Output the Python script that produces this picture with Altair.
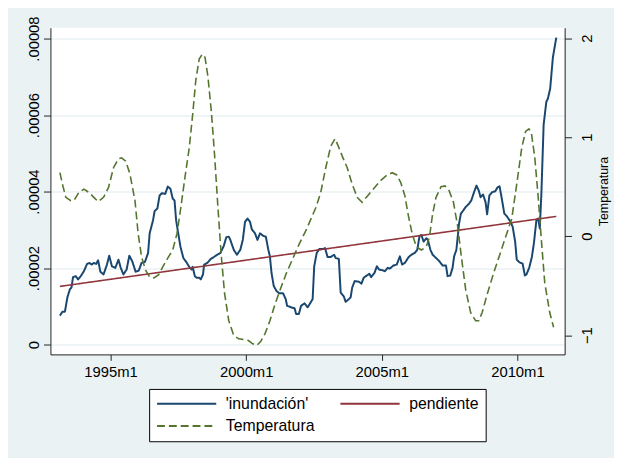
import altair as alt
import pandas as pd

# ---- data (months in Stata %tm: 420 = 1995m1) ----
inund_mes = [397.6, 398.7, 399.8, 400.9, 402.0, 402.7, 403.4, 404.6, 405.6, 406.8,
             408.2, 409.6, 410.7, 411.6, 412.6, 413.6, 414.5, 415.5, 416.9, 418.4,
             419.4, 420.6, 422.1, 423.5, 424.5, 425.7, 427.1, 428.3, 429.6, 431.1,
             432.5, 433.7, 435.2, 436.6, 437.3, 438.8, 439.5, 440.7, 441.7, 442.7,
             444.2, 445.3, 446.5, 447.5, 448.3, 449.0, 449.7, 450.9, 452.2, 453.6,
             454.8, 455.8, 456.3, 457.3, 458.1, 459.2, 459.9, 460.9, 461.4, 462.8,
             464.3, 465.7, 467.2, 468.6, 470.1, 471.2, 472.3, 473.0, 474.5, 475.9,
             477.4, 478.5, 479.5, 480.6, 481.7, 482.5, 483.9, 485.0, 486.1, 487.6,
             488.7, 489.8, 490.5, 491.2, 492.2, 493.4, 494.6, 496.3, 497.5, 498.1,
             499.9, 501.4, 502.1, 503.3, 504.3, 505.8, 507.2, 508.7, 509.4, 510.1,
             511.2, 512.3, 513.8, 514.9, 516.0, 517.4, 518.9, 519.6, 521.0, 521.8,
             523.2, 524.0, 525.4, 526.2, 526.9, 528.0, 529.8, 531.0, 532.0, 533.4,
             534.5, 535.3, 536.8, 537.8, 538.8, 540.3, 541.4, 542.6, 543.6, 545.1,
             546.6, 548.0, 549.0, 550.2, 551.9, 553.1, 554.5, 555.7, 556.7, 557.5,
             558.5, 559.7, 560.4, 561.5, 562.5, 564.0, 565.5, 566.9, 568.4, 569.1,
             570.3, 571.3, 572.0, 573.0, 574.2, 575.0, 576.1, 577.1, 578.6, 579.6,
             580.8, 581.9, 582.9, 583.7, 584.8, 585.9, 586.6, 587.6, 588.8, 590.2,
             591.2, 592.1, 593.1, 594.2, 595.3, 596.8, 597.9, 599.0, 599.7, 600.9,
             602.3, 603.3, 604.0, 605.2, 606.4, 607.3, 608.4, 609.2, 609.9, 610.6,
             611.6, 612.8, 613.5, 614.5, 615.7, 617.2]
# 'inundación' in units of 1e-5
inund_val = [0.756, 0.859, 0.859, 1.231, 1.445, 1.489, 1.763, 1.788, 1.703, 1.788,
             1.917, 2.108, 2.134, 2.090, 2.134, 2.108, 2.201, 1.902, 1.832, 2.090,
             2.323, 2.046, 2.005, 2.219, 2.005, 1.832, 1.961, 2.323, 2.175, 1.902,
             1.935, 2.134, 2.160, 2.392, 2.908, 3.252, 3.492, 3.554, 3.897, 3.956,
             3.941, 4.129, 4.070, 3.812, 3.768, 3.252, 2.994, 2.563, 2.263, 2.150,
             2.031, 1.961, 2.031, 1.788, 1.747, 1.747, 1.703, 1.832, 2.090, 2.134,
             2.237, 2.289, 2.348, 2.392, 2.581, 2.805, 2.821, 2.735, 2.477, 2.348,
             2.477, 2.735, 3.208, 3.295, 3.208, 3.012, 2.908, 2.735, 2.908, 2.839,
             2.821, 2.477, 2.305, 1.876, 1.530, 1.401, 1.342, 1.342, 1.187, 1.014,
             0.973, 0.947, 0.800, 0.800, 1.014, 1.076, 0.973, 1.117, 1.187, 2.046,
             2.392, 2.495, 2.495, 2.521, 2.289, 2.289, 2.348, 2.263, 2.237, 1.360,
             1.257, 1.117, 1.187, 1.231, 1.489, 1.659, 1.644, 1.592, 1.747, 1.806,
             1.850, 1.763, 1.876, 2.046, 1.961, 1.943, 1.917, 2.005, 1.987, 2.065,
             2.090, 2.305, 2.090, 2.134, 2.289, 2.348, 2.392, 2.477, 2.839, 2.865,
             2.692, 2.779, 2.735, 2.477, 2.348, 2.263, 2.175, 2.065, 2.065, 1.788,
             1.806, 2.005, 2.305, 2.477, 3.166, 3.425, 3.510, 3.595, 3.683, 3.768,
             3.982, 4.155, 4.026, 3.853, 3.923, 3.724, 3.406, 3.897, 3.982, 4.008,
             4.111, 4.137, 3.812, 3.425, 3.355, 3.226, 3.079, 2.692, 2.219, 2.150,
             2.116, 1.806, 1.832, 2.005, 2.289, 2.650, 3.252, 3.295, 3.037, 3.941,
             5.747, 6.348, 6.434, 6.692, 7.510, 8.026]

pend_mes = [397.6, 617.2]
pend_val = [1.52, 3.35]  # units of 1e-5

temp_mes = [397.6, 398.7, 400.2, 402.4, 403.8, 406.0, 408.2, 410.4, 412.6, 414.5,
            416.9, 419.1, 421.3, 423.5, 424.9, 426.7, 428.6, 430.8, 432.2, 433.7,
            435.4, 437.3, 439.2, 441.3, 443.2, 445.3, 447.5, 449.4, 451.1, 453.3,
            454.8, 456.3, 457.7, 459.2, 460.6, 461.8, 463.1, 464.6, 466.0, 467.5,
            468.9, 470.4, 472.3, 474.5, 476.7, 478.8, 481.0, 482.9, 484.7, 486.4,
            488.3, 490.5, 492.6, 494.8, 497.8, 500.7, 503.6, 506.5, 510.9, 513.0,
            515.2, 517.4, 519.3, 520.8, 522.5, 524.7, 526.9, 529.1, 531.3, 533.4,
            536.3, 539.3, 542.2, 544.6, 546.6, 548.4, 550.2, 551.6, 553.4, 555.3,
            557.5, 559.7, 561.1, 562.5, 564.0, 566.2, 568.0, 569.8, 571.7, 573.5,
            575.2, 577.1, 579.3, 581.5, 582.9, 584.4, 586.6, 589.5, 592.4, 595.3,
            597.5, 599.7, 601.9, 603.6, 605.1, 606.2, 607.7, 609.2, 610.6, 612.1,
            614.3, 616.0]
temp_val = [0.641, 0.525, 0.392, 0.359, 0.359, 0.442, 0.475, 0.442, 0.392, 0.349,
            0.392, 0.492, 0.691, 0.781, 0.791, 0.758, 0.625, 0.359, 0.027, -0.206,
            -0.339, -0.412, -0.422, -0.389, -0.306, -0.222, -0.140, 0.027, 0.292, 0.658,
            0.890, 1.223, 1.572, 1.788, 1.838, 1.805, 1.605, 1.256, 0.825, 0.292,
            -0.173, -0.571, -0.854, -1.004, -1.037, -1.044, -1.054, -1.087, -1.104, -1.064,
            -0.987, -0.854, -0.698, -0.555, -0.372, -0.222, -0.073, 0.060, 0.292, 0.442,
            0.691, 0.907, 0.984, 0.907, 0.808, 0.691, 0.525, 0.392, 0.342, 0.399,
            0.476, 0.558, 0.615, 0.641, 0.618, 0.541, 0.409, 0.226, 0.027, -0.107,
            -0.140, -0.107, -0.007, 0.226, 0.392, 0.499, 0.508, 0.459, 0.342, 0.110,
            -0.206, -0.538, -0.771, -0.854, -0.854, -0.771, -0.588, -0.372, -0.173, 0.027,
            0.176, 0.525, 0.890, 1.057, 1.084, 1.040, 0.791, 0.392, -0.040, -0.472,
            -0.771, -0.920]

series = ["'inundación'", "pendiente", "Temperatura"]
colores = ["#1A476F", "#90353B", "#55752F"]
x_ticks = [420, 480, 540, 600]
left_ticks = [0, 0.00002, 0.00004, 0.00006, 0.00008]
right_ticks = [-1, 0, 1, 2]

FONT = "Liberation Sans"
BG = "#EAF2F3"

df_inund = pd.DataFrame({"mes": inund_mes, "valor": [v * 1e-5 for v in inund_val], "serie": series[0]})
df_pend = pd.DataFrame({"mes": pend_mes, "valor": [v * 1e-5 for v in pend_val], "serie": series[1]})
df_temp = pd.DataFrame({"mes": temp_mes, "valor": temp_val, "serie": series[2]})

legend = alt.Legend(
    title=None, orient="none", legendX=100, legendY=366, columns=2, values=series,
    direction="horizontal",
    symbolType="stroke", symbolSize=3600, symbolStrokeWidth=2, clipHeight=16,
    labelFont=FONT, labelFontSize=16, labelColor="black", labelOffset=8.7,
    columnPadding=24.8, rowPadding=6.5, padding=7,
    fillColor="white", strokeColor="black",
)

color = alt.Color("serie:N", scale=alt.Scale(domain=series, range=colores), legend=legend)
dash = alt.StrokeDash("serie:N", scale=alt.Scale(domain=series, range=[[1, 0], [1, 0], [8, 4]]), legend=legend)

x = alt.X(
    "mes:Q",
    scale=alt.Scale(domain=[393.4, 620.9], nice=False, zero=False),
    axis=alt.Axis(
        values=x_ticks, title=None, grid=False,
        labelExpr="floor(datum.value/12)+1960 + 'm' + (datum.value%12+1)",
        tickSize=6, labelPadding=4, labelFontSize=15,
    ),
)

y_left = alt.Y(
    "valor:Q",
    scale=alt.Scale(domain=[-2.58e-6, 8.284e-5], nice=False, zero=False),
    axis=alt.Axis(
        orient="left", values=left_ticks, title=None,
        labelExpr="datum.value == 0 ? '0' : replace(format(datum.value, '.5f'), '0.', '.')",
        labelAngle=270, labelAlign="center", labelBaseline="alphabetic",
        grid=True, gridColor=BG, gridWidth=1.5,
        tickSize=7, labelPadding=5, labelFontSize=15,
    ),
)

y_right = alt.Y(
    "valor:Q",
    scale=alt.Scale(domain=[-1.194, 2.105], nice=False, zero=False),
    axis=alt.Axis(
        orient="right", values=right_ticks, title="Temperatura",
        labelAngle=270, labelAlign="center", labelBaseline="top",
        grid=False, tickSize=7, labelPadding=8, labelFontSize=15,
        titleAngle=270, titleBaseline="top", titleFontSize=12.5,
        titleFontWeight="normal", titlePadding=3,
    ),
)

l_inund = alt.Chart(df_inund).mark_line(strokeWidth=2, strokeJoin="round").encode(
    x=x, y=y_left, color=color, strokeDash=dash)
l_pend = alt.Chart(df_pend).mark_line(strokeWidth=1.6).encode(
    x=x, y=y_left, color=color, strokeDash=dash)
l_temp = alt.Chart(df_temp).mark_line(strokeWidth=1.6).encode(
    x=x, y=y_right, color=color, strokeDash=dash)

left = alt.layer(l_inund, l_pend)
chart = alt.layer(left, l_temp).resolve_scale(y="independent").properties(
    width=521, height=331,
    padding={"left": 43, "top": 17, "right": 50, "bottom": 102},
    autosize=alt.AutoSizeParams(type="none"),
    background=BG,
).configure(font=FONT).configure_view(fill="white", stroke=None).configure_axis(
    domainColor="#222", tickColor="#222", labelColor="black", titleColor="black",
    labelFont=FONT, titleFont=FONT,
)

chart.save("out.html", embed_options={"renderer": "svg", "actions": False})
